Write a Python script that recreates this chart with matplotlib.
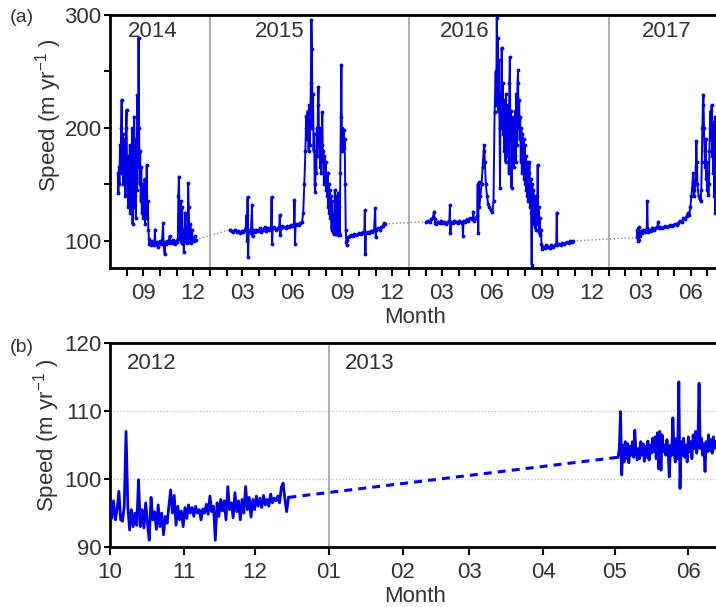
import numpy as np
import pandas as pd
import matplotlib
matplotlib.use('Agg')
import matplotlib.pyplot as plt
import matplotlib.dates as mdates
import matplotlib.ticker as ticker

plt.rcParams['font.family'] = ['Liberation Sans', 'DejaVu Sans']
plt.rcParams['mathtext.default'] = 'regular'

# ---- panel (a): (day since 2014-01-01, speed m/yr) ----
base_a = '2014-01-01'
seg2014 = [(196, 160), (197, 142), (198, 165), (199, 150), (200, 185), (201, 160), (202, 200), (203, 225),
           (204, 170), (205, 195), (206, 150), (207, 190), (208, 165), (209, 180), (210, 140), (211, 200),
           (212, 216), (213, 150), (214, 175), (215, 130), (216, 170), (217, 140), (218, 185), (219, 125),
           (220, 160), (221, 135), (222, 200), (223, 115), (224, 170), (225, 130), (226, 210), (227, 140),
           (228, 190), (229, 120), (230, 175), (231, 145), (232, 229), (233, 165), (234, 280), (235, 200),
           (236, 150), (237, 180), (238, 135), (239, 165), (240, 125), (241, 150), (242, 120), (243, 145),
           (244, 125), (245, 155), (246, 115), (247, 140), (248, 130), (249, 167), (250, 120), (251, 135),
           (252, 110), (253, 102), (254, 97), (255, 99), (257, 96), (259, 100), (261, 98), (263, 96),
           (264, 110), (265, 97), (267, 99), (269, 95), (271, 98), (273, 100), (275, 97), (277, 99),
           (279, 116), (280, 96), (282, 88), (283, 99), (285, 97), (287, 100), (289, 98), (291, 104),
           (292, 99), (294, 100), (296, 98), (298, 101), (300, 97), (302, 100), (304, 99), (306, 102),
           (307, 140), (308, 157), (309, 120), (310, 104), (311, 100), (312, 135), (313, 98), (314, 130),
           (315, 97), (316, 110), (317, 90), (318, 100), (320, 125), (321, 102), (322, 98), (323, 112),
           (324, 100), (325, 151), (326, 130), (327, 105), (328, 99), (329, 115), (330, 101), (331, 98),
           (332, 110), (333, 102), (335, 100), (337, 104), (339, 101)]

seg2015 = [(402, 110), (405, 109), (408, 108), (411, 110), (414, 108), (417, 109), (420, 107), (423, 109),
           (426, 108), (429, 110), (431, 112), (432, 123), (433, 100), (434, 139), (435, 86), (436, 108),
           (438, 110), (440, 107), (442, 132), (443, 104), (444, 110), (447, 108), (450, 110), (453, 109),
           (456, 111), (459, 108), (462, 110), (465, 112), (468, 109), (471, 111), (474, 110), (477, 112),
           (478, 139), (479, 97), (480, 111), (483, 112), (486, 110), (489, 111), (492, 112), (493, 123),
           (494, 105), (495, 111), (498, 113), (501, 112), (504, 111), (507, 113), (510, 112), (513, 114),
           (516, 113), (519, 115), (520, 136), (521, 97), (522, 114), (525, 115), (528, 114), (531, 116),
           (534, 117), (536, 125), (538, 150), (540, 180), (541, 200), (542, 211), (543, 190), (544, 215),
           (545, 200), (546, 180), (547, 220), (548, 185), (549, 205), (550, 240), (551, 296), (552, 270),
           (553, 200), (554, 230), (555, 180), (556, 195), (557, 150), (558, 143), (559, 175), (560, 160),
           (561, 200), (562, 175), (563, 220), (564, 236), (565, 185), (566, 200), (567, 165), (568, 190),
           (569, 160), (570, 185), (571, 214), (572, 170), (573, 180), (574, 150), (575, 175), (576, 155),
           (577, 170), (578, 145), (579, 160), (580, 140), (581, 160), (582, 130), (583, 150), (584, 125),
           (585, 145), (586, 120), (587, 140), (588, 110), (589, 135), (590, 112), (591, 108), (592, 125),
           (593, 106), (594, 145), (595, 110), (596, 140), (597, 106), (598, 135), (599, 105), (600, 142),
           (601, 108), (602, 130), (603, 105), (604, 160), (605, 210), (606, 256), (607, 180), (608, 200),
           (609, 185), (610, 198), (611, 182), (612, 190), (613, 150), (614, 110), (615, 99), (616, 96),
           (617, 101), (619, 103), (621, 104), (624, 105), (627, 104), (630, 106), (633, 105), (636, 106),
           (639, 107), (642, 106), (645, 108), (648, 107), (649, 127), (650, 88), (651, 107), (654, 108),
           (657, 107), (660, 109), (663, 108), (666, 110), (668, 129), (669, 103), (670, 110), (673, 111),
           (676, 110), (679, 112), (682, 113), (684, 116), (686, 115)]

seg2016 = [(762, 117), (765, 118), (768, 117), (771, 119), (774, 121), (776, 126), (777, 119), (778, 116),
           (780, 115), (783, 117), (786, 116), (789, 118), (792, 116), (795, 117), (798, 115), (801, 117),
           (804, 118), (805, 132), (806, 107), (807, 117), (810, 116), (813, 118), (816, 117), (819, 116),
           (822, 118), (825, 117), (828, 116), (829, 104), (830, 118), (833, 117), (836, 119), (839, 118),
           (842, 120), (845, 119), (847, 120), (848, 126), (849, 118), (852, 120), (855, 122), (856, 150),
           (857, 107), (858, 152), (859, 130), (861, 140), (863, 150), (865, 165), (867, 180), (868, 185),
           (869, 170), (871, 150), (873, 140), (875, 133), (877, 130), (880, 127), (883, 126), (885, 135),
           (887, 214), (889, 250), (890, 220), (891, 297), (892, 240), (893, 280), (894, 215), (895, 260),
           (896, 200), (897, 147), (898, 230), (899, 210), (900, 271), (901, 200), (902, 240), (903, 195),
           (904, 225), (905, 180), (906, 210), (907, 170), (908, 230), (909, 185), (910, 215), (911, 175),
           (912, 220), (913, 160), (914, 240), (915, 263), (916, 190), (917, 215), (918, 147), (919, 200),
           (920, 170), (921, 210), (922, 165), (923, 200), (924, 175), (925, 215), (926, 170), (927, 230),
           (928, 185), (929, 240), (930, 251), (931, 200), (932, 225), (933, 190), (934, 210), (935, 170),
           (936, 200), (937, 160), (938, 195), (939, 165), (940, 190), (941, 155), (942, 185), (943, 150),
           (944, 175), (945, 145), (946, 170), (947, 140), (948, 165), (949, 135), (950, 160), (951, 170),
           (952, 130), (953, 155), (954, 125), (955, 79), (956, 150), (957, 120), (958, 145), (959, 115),
           (960, 140), (961, 112), (962, 135), (963, 110), (964, 140), (965, 120), (966, 167), (967, 115),
           (968, 130), (969, 108), (970, 120), (971, 105), (972, 110), (973, 97), (974, 93), (976, 95),
           (979, 94), (982, 96), (985, 95), (988, 94), (991, 96), (994, 95), (997, 96), (1000, 97),
           (1001, 125), (1002, 96), (1005, 97), (1008, 96), (1011, 98), (1014, 97), (1017, 98), (1020, 99),
           (1023, 98), (1026, 100), (1029, 99), (1031, 100)]

seg2017 = [(1148, 103), (1149, 110), (1150, 100), (1151, 112), (1152, 101), (1153, 108), (1154, 104),
           (1156, 109), (1158, 107), (1160, 110), (1162, 108), (1164, 109), (1166, 111), (1167, 135),
           (1168, 108), (1170, 110), (1173, 109), (1176, 111), (1179, 110), (1182, 111), (1185, 112),
           (1187, 117), (1188, 111), (1191, 112), (1194, 111), (1197, 112), (1200, 113), (1203, 112),
           (1206, 113), (1209, 114), (1212, 113), (1215, 114), (1218, 115), (1221, 114), (1224, 116),
           (1227, 118), (1230, 117), (1233, 120), (1236, 119), (1239, 122), (1242, 125), (1244, 123),
           (1246, 130), (1248, 140), (1250, 152), (1251, 160), (1252, 145), (1253, 140), (1255, 150),
           (1256, 165), (1257, 188), (1258, 170), (1259, 150), (1261, 140), (1263, 137), (1265, 135),
           (1266, 145), (1267, 170), (1268, 200), (1269, 220), (1270, 229), (1271, 200), (1272, 180),
           (1273, 165), (1274, 190), (1275, 155), (1276, 170), (1277, 145), (1278, 160), (1279, 141),
           (1280, 150), (1281, 180), (1282, 200), (1283, 215), (1284, 190), (1285, 220), (1286, 175),
           (1287, 205), (1288, 160), (1289, 200), (1290, 140), (1291, 210), (1292, 125), (1293, 190),
           (1294, 130), (1295, 185)]

years_a = ['2014', '2015', '2016', '2017']
year_label_days_a = [260, 493, 833, 1203]

# ---- panel (b): sampled every 0.75 day from 2012-10-01, then every 0.5 day from day 213.5 ----
base_b = '2012-10-01'
b1_step = 0.75
b1_vals = [96.5, 94.2, 96.8, 94.0, 95.5, 98.2, 94.0, 93.8, 96.0, 107.0,
           96.0, 92.5, 95.5, 93.0, 95.0, 93.2, 99.9, 93.0, 95.5, 92.8,
           96.5, 93.5, 91.0, 97.3, 94.0, 95.2, 92.6, 96.2, 93.0, 95.0,
           91.8, 94.5, 93.5, 96.0, 98.4, 95.0, 97.6, 93.2, 96.0, 94.0,
           95.3, 93.0, 95.8, 94.2, 96.2, 95.0, 95.8, 94.5, 96.0, 95.0,
           95.5, 94.0, 95.6, 95.0, 96.3, 94.8, 97.5, 95.2, 96.0, 91.0,
           96.5, 94.5, 97.0, 95.3, 96.8, 94.0, 98.9, 95.5, 96.5, 94.3,
           98.0, 95.2, 96.8, 94.0, 97.0, 95.0, 98.9, 95.5, 97.3, 94.4,
           97.0, 95.5, 97.5, 96.0, 97.2, 95.8, 97.6, 96.2, 97.0, 96.0,
           97.8, 96.5, 97.2, 96.8, 97.5, 96.5, 98.8, 99.4, 97.0, 95.2,
           97.3]
b2_start = 213.5
b2_step = 0.5
b2_vals = [103.2, 104.5, 109.9, 100.6, 105.0, 102.5, 105.5, 103.0, 105.2, 102.4,
           104.8, 103.5, 105.5, 103.2, 107.2, 104.0, 102.8, 104.5, 103.0, 105.5,
           103.5, 105.2, 102.6, 104.8, 103.2, 105.6, 102.8, 105.0, 103.8, 106.0,
           104.0, 106.2, 103.0, 106.8, 101.5, 107.0, 101.3, 106.5, 104.0, 105.0,
           103.5, 105.8, 104.2, 100.3, 105.0, 103.5, 109.0, 104.0, 102.5, 106.0,
           103.0, 114.3, 98.6, 105.5, 103.5, 106.0, 103.2, 105.0, 102.5, 106.2,
           104.0, 105.5, 103.0, 106.5, 104.5, 107.0, 103.8, 105.0, 114.1, 104.5,
           106.0, 103.5, 105.2, 101.1, 105.5, 104.0, 106.5, 104.2, 105.8, 103.8,
           106.2, 104.5, 105.5]

years_b = ['2012', '2013']
year_label_days_b = [17.5, 109]

BLUE = '#0000e6'
GRAY_TXT = '#333333'
FS = 16


def to_dates(base, days):
    return pd.Timestamp(base) + pd.to_timedelta(np.asarray(days, dtype=float), unit='D')


def style_axis(ax):
    for s in ax.spines.values():
        s.set_linewidth(2)
    ax.tick_params(which='both', direction='out', width=1.5, labelsize=FS, labelcolor=GRAY_TXT)
    ax.tick_params(axis='x', which='both', length=6, pad=5)
    ax.tick_params(axis='y', which='both', length=4, pad=2)


fig = plt.figure(figsize=(7.16, 6.07), dpi=100)

# ---------------- panel (a) ----------------
axA = fig.add_axes([0.1536, 0.5585, 0.8517, 0.4168])
segs = [seg2014, seg2015, seg2016, seg2017]
for k, seg in enumerate(segs):
    t, v = zip(*seg)
    axA.plot(to_dates(base_a, t), v, color=BLUE, lw=1.4, marker='.', ms=3.5, zorder=3)
    if k > 0:
        prev = segs[k - 1][-1]
        axA.plot(to_dates(base_a, [prev[0], seg[0][0]]), [prev[1], seg[0][1]],
                 color='#888888', ls=':', lw=1.0, zorder=2)

for y in ['2015-01-01', '2016-01-01', '2017-01-01']:
    axA.axvline(pd.Timestamp(y), color='#b0b0b0', lw=1.5, zorder=1)

for name, d in zip(years_a, year_label_days_a):
    axA.text(to_dates(base_a, [d])[0], 0.933, name, transform=axA.get_xaxis_transform(),
             ha='center', va='center', fontsize=FS, color=GRAY_TXT)

axA.set_xlim(to_dates(base_a, [181.6, 1300]))
axA.set_ylim(76, 300)
axA.xaxis.set_major_locator(mdates.MonthLocator(bymonth=[3, 6, 9, 12]))
axA.xaxis.set_major_formatter(mdates.DateFormatter('%m'))
axA.xaxis.set_minor_locator(mdates.MonthLocator())
axA.yaxis.set_major_locator(ticker.MultipleLocator(100))
axA.yaxis.set_minor_locator(ticker.MultipleLocator(50))
style_axis(axA)
axA.spines['right'].set_visible(False)
axA.set_xlabel('Month', fontsize=FS, color=GRAY_TXT, labelpad=2)
axA.set_ylabel('Speed (m yr$^{-1}$ )', fontsize=FS, color=GRAY_TXT)
axA.yaxis.set_label_coords(-0.075, 0.605)

# ---------------- panel (b) ----------------
axB = fig.add_axes([0.1536, 0.0988, 0.852, 0.336])
b1_days = np.arange(len(b1_vals)) * b1_step
b2_days = b2_start + np.arange(len(b2_vals)) * b2_step
axB.plot(to_dates(base_b, b1_days), b1_vals, color=BLUE, lw=2.0, zorder=3)
axB.plot(to_dates(base_b, b2_days), b2_vals, color=BLUE, lw=2.0, zorder=3)
axB.plot(to_dates(base_b, [b1_days[-1], b2_days[0]]), [b1_vals[-1], b2_vals[0]],
         color=BLUE, lw=2.2, ls=(0, (2.6, 2.0)), zorder=3)

for yv in [100, 110]:
    axB.axhline(yv, color='#bbbbbb', ls=':', lw=0.9, zorder=0)
axB.axvline(pd.Timestamp('2013-01-01'), color='#b0b0b0', lw=1.5, zorder=1)

for name, d in zip(years_b, year_label_days_b):
    axB.text(to_dates(base_b, [d])[0], 0.902, name, transform=axB.get_xaxis_transform(),
             ha='center', va='center', fontsize=FS, color=GRAY_TXT)

axB.set_xlim(to_dates(base_b, [0, 256.3]))
axB.set_ylim(90, 120)
axB.set_yticks([90, 100, 110, 120])
axB.xaxis.set_major_locator(mdates.MonthLocator())
axB.xaxis.set_major_formatter(mdates.DateFormatter('%m'))
style_axis(axB)
axB.spines['right'].set_visible(False)
axB.set_xlabel('Month', fontsize=FS, color=GRAY_TXT, labelpad=2)
axB.set_ylabel('Speed (m yr$^{-1}$ )', fontsize=FS, color=GRAY_TXT)
axB.yaxis.set_label_coords(-0.078, 0.549)

fig.text(0.014, 1 - 17 / 607, '(a)', fontsize=14, color=GRAY_TXT, va='center')
fig.text(0.014, 1 - 348 / 607, '(b)', fontsize=14, color=GRAY_TXT, va='center')

fig.savefig('out.png', dpi=100)
